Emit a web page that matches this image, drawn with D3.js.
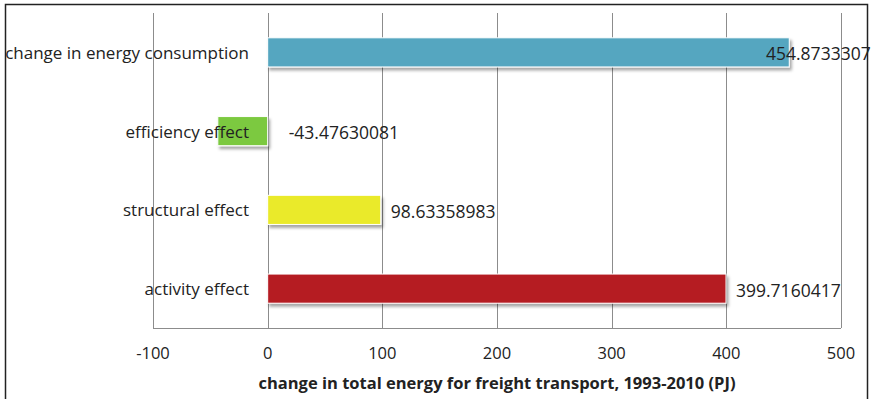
<!DOCTYPE html>
<html><head><meta charset="utf-8">
<script src="https://cdn.jsdelivr.net/npm/d3@7"></script>
<style>
html,body{margin:0;padding:0;background:#fff;}
svg{display:block;}
text{font-family:"Open Sans", sans-serif;}
</style></head>
<body>
<svg id="chart" width="871" height="399"></svg>
<script>
const categories = ["change in energy consumption","efficiency effect","structural effect","activity effect"];
const values = [454.8733307, -43.47630081, 98.63358983, 399.7160417];
const valueLabels = ["454.8733307","-43.47630081","98.63358983","399.7160417"];
const barColors = ["#55A6C0","#7BC940","#EAEA2B","#B51C23"];
const xTicks = [-100,0,100,200,300,400,500];
const xTitle = "change in total energy for freight transport, 1993-2010 (PJ)";

const svg = d3.select("#chart");
const W = 871, H = 399;
const m = {left:153, right:30, top:13, bottom:71};
const x = d3.scaleLinear().domain([-100,500]).range([m.left, W - m.right]);
const y = d3.scaleBand().domain(categories).range([m.top, H - m.bottom]).paddingInner(0.63).paddingOuter(0.315);

const defs = svg.append("defs");
const f = defs.append("filter").attr("id","sh").attr("x","-10%").attr("y","-30%").attr("width","130%").attr("height","180%");
f.append("feDropShadow").attr("dx",2).attr("dy",3).attr("stdDeviation",1.5).attr("flood-color","#000").attr("flood-opacity",0.35);

// outer frame
svg.append("rect").attr("x",5.5).attr("y",4.5).attr("width",862).attr("height",400)
  .attr("fill","none").attr("stroke","#222").attr("stroke-width",1.5);

// gridlines
svg.append("g").selectAll("line").data(xTicks).join("line")
  .attr("x1",d=>Math.round(x(d))+0.5).attr("x2",d=>Math.round(x(d))+0.5)
  .attr("y1",m.top).attr("y2",H-m.bottom)
  .attr("stroke","#8c8c8c").attr("stroke-width",1);

// bottom axis line
svg.append("line").attr("x1",x(-100)).attr("x2",x(500))
  .attr("y1",H-m.bottom+0.5).attr("y2",H-m.bottom+0.5)
  .attr("stroke","#8c8c8c");

// bars
const data = categories.map((c,i)=>({c,v:values[i],lab:valueLabels[i],col:barColors[i]}));
svg.append("g").selectAll("rect").data(data).join("rect")
  .attr("x",d=>x(Math.min(0,d.v))).attr("y",d=>y(d.c))
  .attr("width",d=>Math.abs(x(d.v)-x(0))).attr("height",y.bandwidth())
  .attr("fill",d=>d.col).attr("stroke","#ffffff").attr("stroke-width",1)
  .attr("filter","url(#sh)");

// category labels
svg.append("g").selectAll("text").data(categories).join("text")
  .attr("x",249).attr("y",d=>y(d)+y.bandwidth()/2)
  .attr("text-anchor","end").attr("dominant-baseline","central")
  .attr("font-size",17).attr("fill","#222").text(d=>d);

// value labels
svg.append("g").selectAll("text").data(data).join("text")
  .attr("x",d=>{
    if (d.v < 0) return x(0) + 21;
    const xe = x(d.v) + 10;
    return Math.min(xe, W - 105);
  })
  .attr("y",d=>y(d.c)+y.bandwidth()/2+1)
  .attr("dominant-baseline","central")
  .attr("font-size",17.5).attr("fill","#222").text(d=>d.lab);

// tick labels
svg.append("g").selectAll("text").data(xTicks).join("text")
  .attr("x",d=>x(d)).attr("y",352)
  .attr("text-anchor","middle").attr("dominant-baseline","central")
  .attr("font-size",16.5).attr("fill","#222").text(d=>d);

// axis title
svg.append("text").attr("x",497).attr("y",382)
  .attr("text-anchor","middle").attr("dominant-baseline","central")
  .attr("font-size",16.5).attr("font-weight","bold").attr("fill","#222").text(xTitle);
</script>
</body></html>
